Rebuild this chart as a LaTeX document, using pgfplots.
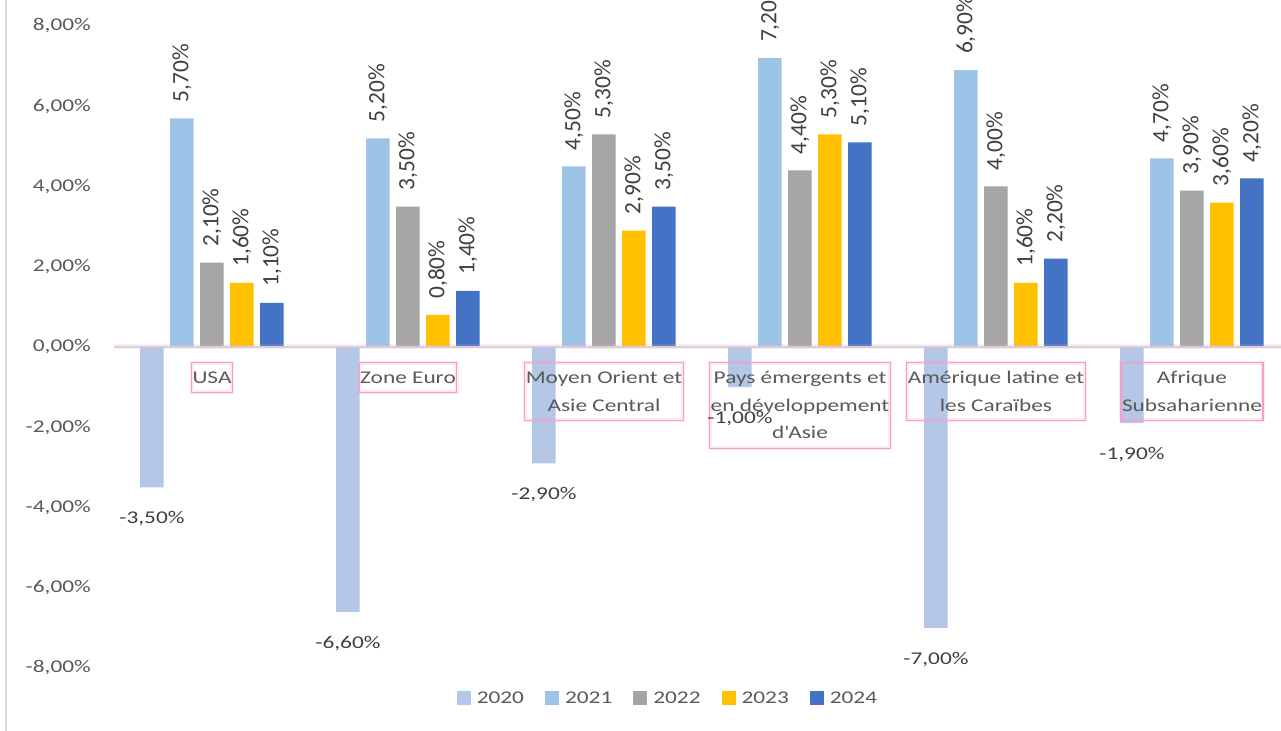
\documentclass[border=0pt]{standalone}
\usepackage{fontspec}
\setmainfont{Carlito}[FakeStretch=1.3]
\newfontfamily\rotfont{Carlito}
\usepackage{pgfplots}
\pgfplotsset{compat=1.18}
\usepackage{pgfplotstable}
\definecolor{c2020}{HTML}{B4C7E7}
\definecolor{c2021}{HTML}{9DC3E6}
\definecolor{c2022}{HTML}{A5A5A5}
\definecolor{c2023}{HTML}{FFC000}
\definecolor{c2024}{HTML}{4472C4}
\definecolor{tickc}{HTML}{595959}
\definecolor{labc}{HTML}{404040}
\definecolor{pinkbox}{HTML}{F2A0CC}
\definecolor{zeroc}{HTML}{D6D0D4}
\definecolor{borderc}{HTML}{D9D9D9}
\newcommand{\pct}[1]{\pgfmathprintnumber[fixed,fixed zerofill,precision=2,use comma,assume math mode=true]{#1}\%}

\pgfplotstableread{
x y2020 y2021 y2022 y2023 y2024
0 -3.5 5.7 2.1 1.6 1.1
1 -6.6 5.2 3.5 0.8 1.4
2 -2.9 4.5 5.3 2.9 3.5
3 -1.0 7.2 4.4 5.3 5.1
4 -7.0 6.9 4.0 1.6 2.2
5 -1.9 4.7 3.9 3.6 4.2
}\data

\begin{document}
\begin{tikzpicture}
\path[use as bounding box] (-114bp,-63bp) rectangle (1167bp,668bp);
\draw[borderc, line width=1.5bp] (-108bp,-63bp) -- (-108bp,668bp);
\begin{axis}[
  axis on top,
  at={(0,0)}, anchor=south west,
  scale only axis, width=1176bp, height=642bp,
  xmin=-0.5, xmax=5.5, ymin=-8, ymax=8,
  axis line style={draw=none},
  major tick length=0pt,
  ytick={-8,-6,...,8},
  yticklabel={\pct{\tick}},
  yticklabel style={anchor=east, inner sep=0pt, xshift=-23bp, text=tickc, font=\fontsize{18}{28}\selectfont},
  extra y ticks={0}, extra y tick labels={},
  extra y tick style={grid=major, major grid style={draw=zeroc, line width=1.5bp, preaction={draw=pinkbox, line width=5bp, opacity=0.2}}},
  xtick={0,...,5},
  xticklabels={{\strut USA},{\strut Zone Euro},{\strut Moyen Orient et\\\strut Asie Central},{\strut Pays émergents et\\\strut en développement\\\strut d\textquotesingle Asie},{\strut Amérique latine et\\\strut les Caraïbes},{\strut Afrique\\\strut Subsaharienne}},
  xticklabel style={anchor=north, yshift=306bp, align=center, draw=pinkbox, line width=1.2bp, preaction={draw=pinkbox, line width=4bp, opacity=0.25}, inner xsep=1bp, inner ysep=1bp, text=tickc, font=\fontsize{18}{28}\selectfont},
  ybar=6.5bp, bar width=23.5bp,
  legend style={at={(0.4702,-0.0467)}, anchor=center, draw=none, fill=none, legend columns=5,
    font=\fontsize{18}{28}\selectfont, text=tickc,
    nodes={inner sep=0pt},
    /tikz/every odd column/.append style={column sep=6bp},
    /tikz/every even column/.append style={column sep=21bp}},
  sq/.style={draw=none, fill=#1, legend image code/.code={\fill[#1] (0bp,-7bp) rectangle (14bp,7bp);}},
  posl/.style={nodes near coords={\pct{\pgfplotspointmeta}},
    every node near coord/.append style={yshift=16bp, rotate=90, anchor=west, inner sep=0pt, font=\rotfont\fontsize{23.5}{28}\selectfont, text=labc}},
  negl/.style={nodes near coords={\pct{\pgfplotspointmeta}},
    every node near coord/.append style={anchor=north, yshift=-24bp, inner sep=0pt, font=\fontsize{18}{22}\selectfont, text=labc}},
]
\addplot[sq=c2020, negl] table[x=x, y=y2020] {\data};
\addlegendentry{2020}
\addplot[sq=c2021, posl] table[x=x, y=y2021] {\data};
\addlegendentry{2021}
\addplot[sq=c2022, posl] table[x=x, y=y2022] {\data};
\addlegendentry{2022}
\addplot[sq=c2023, posl] table[x=x, y=y2023] {\data};
\addlegendentry{2023}
\addplot[sq=c2024, posl] table[x=x, y=y2024] {\data};
\addlegendentry{2024}
\end{axis}
\end{tikzpicture}
\end{document}
